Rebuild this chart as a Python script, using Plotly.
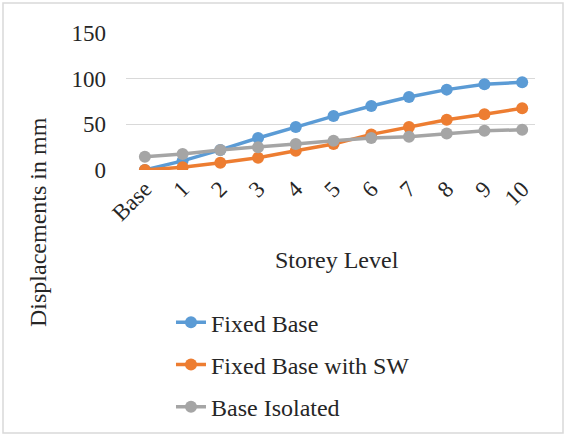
import plotly.graph_objects as go

levels = ["Base", "1", "2", "3", "4", "5", "6", "7", "8", "9", "10"]
fixed_base = [0, 10, 22, 35, 47, 59, 70, 80, 88, 94, 96]
fixed_base_sw = [0, 3, 8, 13.5, 21, 28.5, 39, 47, 55, 61, 67.5]
base_isolated = [14.5, 17.5, 22, 25, 28.5, 32, 35, 36.5, 40, 43, 44]

series = [
    ("Fixed Base", fixed_base, "#5B9BD5"),
    ("Fixed Base with SW", fixed_base_sw, "#ED7D31"),
    ("Base Isolated", base_isolated, "#A5A5A5"),
]

FONT = "Liberation Serif"
TXT = "#262626"

fig = go.Figure()
for i, (name, vals, col) in enumerate(series):
    fig.add_trace(go.Scatter(
        x=levels, y=vals, name=name, mode="lines+markers",
        line=dict(color=col, width=3.5),
        marker=dict(color=col, size=12),
        legendgroup=f"g{i}",
    ))

W, H = 567, 437
L, R, T, B = 126, 32, 33, 267
pw, ph = W - L - R, H - T - B

fig.update_layout(
    width=W, height=H,
    margin=dict(l=L, r=R, t=T, b=B, autoexpand=False),
    paper_bgcolor="white", plot_bgcolor="white",
    font=dict(family=FONT, size=23, color=TXT),
    showlegend=True,
    legend=dict(x=0.11, y=-0.95, xanchor="left", yanchor="top",
                font=dict(family=FONT, size=24, color=TXT),
                tracegroupgap=8, bgcolor="rgba(0,0,0,0)"),
    xaxis=dict(
        type="category", tickangle=-45, showgrid=False,
        range=[-0.5, 10.34],
        showline=False, ticks="", zeroline=False,
        tickfont=dict(family=FONT, size=23, color=TXT),
    ),
    yaxis=dict(
        range=[0, 150], tickvals=[0, 50, 100, 150],
        showgrid=True, gridcolor="#D9D9D9", gridwidth=1,
        zeroline=False, showline=False, ticks="",
        ticklabelstandoff=19,
        tickfont=dict(family=FONT, size=23, color=TXT),
    ),
    annotations=[
        dict(text="Storey Level", xref="paper", yref="paper",
             x=(337 - L) / pw, y=(H - B - 260) / ph, showarrow=False,
             xanchor="center", yanchor="middle",
             font=dict(family=FONT, size=24, color=TXT)),
        dict(text="Displacements in mm", xref="paper", yref="paper",
             x=(38 - L) / pw, y=(H - B - 222) / ph, showarrow=False, textangle=-90,
             xanchor="center", yanchor="middle",
             font=dict(family=FONT, size=24, color=TXT)),
    ],
    shapes=[
        dict(type="rect", xref="paper", yref="paper",
             x0=(3 - L) / pw, x1=(563 - L) / pw,
             y0=(H - B - 433) / ph, y1=(H - B - 3) / ph,
             line=dict(color="#D9D9D9", width=1.5), layer="below"),
    ],
)

fig.write_html("out.html", config={"displayModeBar": False},
               post_script="document.body.style.margin='0px';")
